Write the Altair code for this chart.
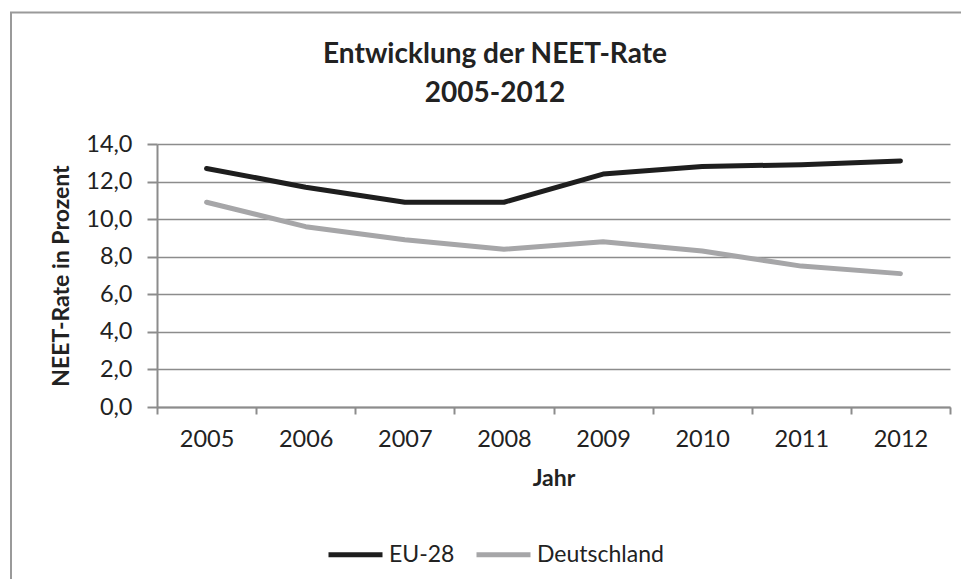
import altair as alt
import pandas as pd

years = [2005, 2006, 2007, 2008, 2009, 2010, 2011, 2012]
eu28 = [12.7, 11.7, 10.9, 10.9, 12.4, 12.8, 12.9, 13.1]
deutschland = [10.9, 9.6, 8.9, 8.4, 8.8, 8.3, 7.5, 7.1]
series = ["EU-28", "Deutschland"]
colors = ["#1e1e1e", "#a6a6a8"]
y_ticks = [0, 2, 4, 6, 8, 10, 12, 14]
title_lines = ["Entwicklung der NEET-Rate", "2005-2012"]

rows = []
for y, a, b in zip(years, eu28, deutschland):
    rows.append({"Jahr": y, "Serie": series[0], "Wert": a})
    rows.append({"Jahr": y, "Serie": series[1], "Wert": b})
df = pd.DataFrame(rows)

x_bounds = [y - 0.5 for y in years] + [years[-1] + 0.5]
FONT = "Lato"
W, H = 793, 263
band = W / len(years)

lines = alt.Chart(df).mark_line(strokeWidth=5, strokeCap="round", strokeJoin="round").encode(
    x=alt.X("Jahr:Q",
            scale=alt.Scale(domain=[x_bounds[0], x_bounds[-1]], nice=False, zero=False),
            axis=alt.Axis(values=x_bounds,
                          labelExpr="datum.value < %d ? toString(datum.value + 0.5) : ''" % years[-1],
                          labelOffset=band / 2, labelFlush=False, labelOverlap=False, labelBound=False,
                          grid=False, tickSize=7, tickColor="#8c8c8c", tickWidth=2,
                          domainColor="#8c8c8c", domainWidth=2,
                          labelPadding=13, titlePadding=17,
                          title="Jahr")),
    y=alt.Y("Wert:Q",
            scale=alt.Scale(domain=[0, 14], nice=False),
            axis=alt.Axis(values=y_ticks,
                          labelExpr="replace(format(datum.value, '.1f'), '.', ',')",
                          labelFlush=False, labelOverlap=False,
                          grid=True, gridColor="#8c8c8c", gridWidth=1.5,
                          tickSize=10, tickColor="#8c8c8c", tickWidth=2,
                          domainColor="#8c8c8c", domainWidth=2,
                          labelPadding=15, titlePadding=12,
                          title="NEET-Rate in Prozent")),
    color=alt.Color("Serie:N",
                    scale=alt.Scale(domain=series, range=colors),
                    sort=series,
                    legend=alt.Legend(title=None, orient="none", legendX=169, legendY=381,
                                      direction="horizontal", symbolType="stroke",
                                      symbolSize=2916, symbolStrokeWidth=5,
                                      labelFontSize=23, labelFont=FONT, labelColor="#222222",
                                      labelOffset=4, columnPadding=11, padding=0)),
)

border = alt.Chart(pd.DataFrame({"k": [0]})).mark_rect(
    fill=None, stroke="#9a9a9a", strokeWidth=2, clip=False
).encode(
    x=alt.value(-146), x2=alt.value(830), y=alt.value(-131.5), y2=alt.value(460)
)

title_style = dict(font=FONT, fontSize=28, fontWeight="bold", color="#222222",
                   align="center", baseline="alphabetic", clip=False)
t1 = alt.Chart(pd.DataFrame({"t": [title_lines[0]]})).mark_text(**title_style).encode(
    text="t:N", x=alt.value(338), y=alt.value(-81))
t2 = alt.Chart(pd.DataFrame({"t": [title_lines[1]]})).mark_text(**title_style).encode(
    text="t:N", x=alt.value(338), y=alt.value(-42))

chart = alt.layer(border, t1, t2, lines).properties(
    width=W, height=H,
    padding={"left": 149, "top": 136, "right": 11, "bottom": 172},
    autosize=alt.AutoSizeParams(type="none"),
).configure_axis(
    labelFont=FONT, labelFontSize=23.5, labelColor="#222222",
    titleFont=FONT, titleFontSize=23, titleFontWeight="bold", titleColor="#222222",
).configure_view(stroke=None)

chart.save("out.html", embed_options={"renderer": "svg", "actions": False})
